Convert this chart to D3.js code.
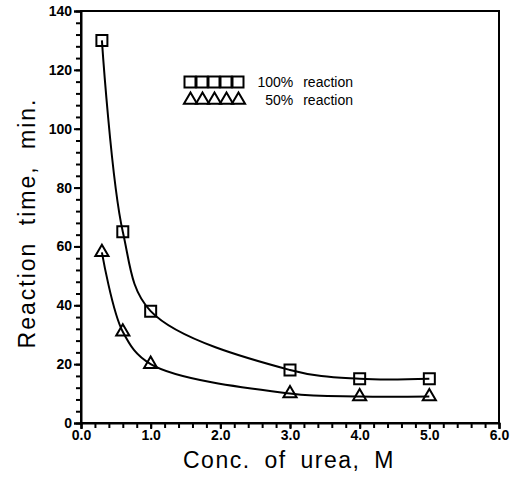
<!DOCTYPE html>
<html><head><meta charset="utf-8">
<script src="https://cdn.jsdelivr.net/npm/d3@7"></script>
<style>body{margin:0;background:#fff}</style>
</head><body>
<script>
const conc = [0.3, 0.6, 1.0, 3.0, 4.0, 5.0];
const time100 = [130, 65, 38, 18, 15, 15];
const time50 = [58, 31, 20, 10, 9, 9];
const xTicks = [0, 1, 2, 3, 4, 5, 6];
const yTicks = [0, 20, 40, 60, 80, 100, 120, 140];
const seriesNames = ["100% reaction", "50% reaction"];

const W = 511, H = 477;
const svg = d3.select("body").append("svg").attr("width", W).attr("height", H);
const x = d3.scaleLinear().domain([0, 6]).range([81, 499]);
const y = d3.scaleLinear().domain([0, 140]).range([423, 11]);
const font = "'Liberation Sans', Arial, sans-serif";

// frame
svg.append("rect").attr("x", x(0)).attr("y", y(140)).attr("width", x(6) - x(0)).attr("height", y(0) - y(140))
  .attr("fill", "none").attr("stroke", "#000").attr("stroke-width", 2);

// y axis
const gym = svg.append("g").attr("transform", `translate(${x(0)},0)`)
  .call(d3.axisLeft(y).tickValues(d3.range(0, 141, 4)).tickSize(5).tickFormat(""));
gym.select(".domain").remove();
gym.selectAll(".tick line").attr("stroke-width", 2);
const yAxis = d3.axisLeft(y).tickValues(yTicks).tickSize(7).tickFormat(d3.format("d"));
const gy = svg.append("g").attr("transform", `translate(${x(0)},0)`).call(yAxis);
gy.select(".domain").attr("stroke-width", 2);
gy.selectAll(".tick line").attr("stroke-width", 2);
gy.selectAll("text").attr("font-family", font).attr("font-weight", "bold").attr("font-size", 14).attr("x", -9);

// x axis
const gxm = svg.append("g").attr("transform", `translate(0,${y(0)})`)
  .call(d3.axisBottom(x).tickValues(d3.range(0, 6.01, 0.2)).tickSize(5).tickFormat(""));
gxm.select(".domain").remove();
gxm.selectAll(".tick line").attr("stroke-width", 2);
const xAxis = d3.axisBottom(x).tickValues(xTicks).tickSize(6).tickFormat(d3.format(".1f"));
const gx = svg.append("g").attr("transform", `translate(0,${y(0)})`).call(xAxis);
gx.select(".domain").attr("stroke-width", 2);
gx.selectAll(".tick line").attr("stroke-width", 2);
gx.selectAll("text").attr("font-family", font).attr("font-weight", "bold").attr("font-size", 14).attr("y", 7);

// titles
svg.append("text").attr("x", 289).attr("y", 468).attr("text-anchor", "middle")
  .attr("font-family", font).attr("font-size", 23).attr("letter-spacing", 1.5).attr("word-spacing", 6)
  .text("Conc. of urea, M");
svg.append("text").attr("transform", `translate(35,223) rotate(-90)`).attr("text-anchor", "middle")
  .attr("font-family", font).attr("font-size", 23).attr("letter-spacing", 2).attr("word-spacing", 8)
  .text("Reaction time, min.");

// curves
const line = d3.line().x(d => x(d[0])).y(d => y(d[1])).curve(d3.curveCatmullRom.alpha(0.5));
const d100 = conc.map((c, i) => [c, time100[i]]);
const d50 = conc.map((c, i) => [c, time50[i]]);
[d100, d50].forEach(d => svg.append("path").attr("d", line(d)).attr("fill", "none").attr("stroke", "#000").attr("stroke-width", 2));

// markers
const sq = d3.symbol().type(d3.symbolSquare).size(121);
const tri = d3.symbol().type(d3.symbolTriangle).size(75);
svg.selectAll(".sq").data(d100).join("path").attr("d", sq)
  .attr("transform", d => `translate(${x(d[0])},${y(d[1])})`).attr("fill", "none").attr("stroke", "#000").attr("stroke-width", 2);
svg.selectAll(".tri").data(d50).join("path").attr("d", tri)
  .attr("transform", d => `translate(${x(d[0])},${y(d[1])})`).attr("fill", "none").attr("stroke", "#000").attr("stroke-width", 2);

// legend
const lg = svg.append("g");
d3.range(5).forEach(i => {
  lg.append("path").attr("d", sq).attr("transform", `translate(${190 + i * 12},82)`).attr("fill", "none").attr("stroke", "#000").attr("stroke-width", 2);
  lg.append("path").attr("d", tri).attr("transform", `translate(${190.5 + i * 12},100)`).attr("fill", "none").attr("stroke", "#000").attr("stroke-width", 2);
});
lg.append("text").attr("x", 353).attr("y", 87).attr("text-anchor", "end").attr("font-family", font).attr("font-size", 14)
  .attr("word-spacing", 6).text(seriesNames[0]);
lg.append("text").attr("x", 353).attr("y", 105).attr("text-anchor", "end").attr("font-family", font).attr("font-size", 14)
  .attr("word-spacing", 6).text(seriesNames[1]);
</script>
</body></html>
